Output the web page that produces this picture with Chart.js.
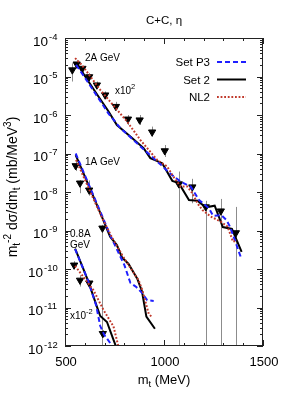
<!DOCTYPE html>
<html>
<head>
<meta charset="utf-8">
<script src="https://cdn.jsdelivr.net/npm/chart.js@4.4.0/dist/chart.umd.min.js"></script>
<style>
  html, body { margin: 0; padding: 0; background: #fff; }
  #wrap { width: 288px; height: 403px; }
</style>
</head>
<body>
<div id="wrap"><canvas id="chart" width="288" height="403"></canvas></div>
<script>
// m_t in MeV, values in mb/MeV^3 as plotted (2A scaled x10^2, 0.8A scaled x10^-2)

// 2A GeV
const set2_2A_mt = [559, 602, 652, 720, 762, 830, 897, 931, 991, 1042, 1075, 1126, 1169, 1211, 1256, 1297, 1343, 1392];
const set2_2A = [2.24e-5, 1.0e-5, 4.07e-6, 1.23e-6, 5.5e-7, 2.75e-7, 1.38e-7, 7.6e-8, 5.6e-8, 1.95e-8, 1.7e-8, 6.2e-9, 5.9e-9, 4.0e-9, 4.4e-9, 1.23e-9, 1.1e-9, 2.8e-10];
const p3_2A_mt = [556, 602, 652, 718, 779, 901, 986, 1028, 1084, 1135, 1177, 1227, 1248, 1290, 1316, 1333, 1358, 1375, 1392];
const p3_2A = [2.0e-5, 9.1e-6, 3.7e-6, 1.12e-6, 4.6e-7, 1.23e-7, 5.0e-8, 3.1e-8, 1.86e-8, 1.38e-8, 6.2e-9, 3.8e-9, 2.4e-9, 2.5e-9, 1.86e-9, 1.26e-9, 5.6e-10, 3.1e-10, 1.78e-10];
const nl2_2A_mt = [551, 585, 678, 813, 881, 931, 965, 1016, 1042, 1084, 1118, 1143, 1169, 1194, 1236, 1287, 1321, 1349, 1368];
const nl2_2A = [3.0e-5, 2.0e-5, 4.5e-6, 6.8e-7, 2.24e-7, 1.1e-7, 6.8e-8, 4.6e-8, 2.75e-8, 1.38e-8, 1.38e-8, 9.3e-9, 5.1e-9, 3.4e-9, 2.3e-9, 1.7e-9, 1.26e-9, 5.1e-10, 5.6e-10];
const exp2A_mt = [537, 559, 588, 622, 661, 703, 757, 818, 877, 940, 1004, 1075, 1143, 1211, 1287, 1363];
const exp2A = [1.48e-5, 2.1e-5, 1.62e-5, 9.8e-6, 6.0e-6, 3.3e-6, 1.66e-6, 7.8e-7, 7.4e-7, 3.6e-7, 1.17e-7, 1.62e-8, 1.35e-8, 4.1e-9, 3.2e-9, 8.7e-10];
const exp2A_hi = [2.2e-5, 2.7e-5, 1.9e-5, 1.23e-5, 7.4e-6, 4.1e-6, 2.2e-6, 1.0e-6, 1.0e-6, 5.0e-7, 1.66e-7, 3.4e-8, 2.2e-8, 5.9e-9, 6.6e-9, 4.1e-9];
const exp2A_lo = [7.4e-6, 1.78e-5, 1.4e-5, 8.1e-6, 5.0e-6, 2.75e-6, 1.35e-6, 5.5e-7, 5.5e-7, 2.75e-7, 8.1e-8, 0, 5.1e-9, 0, 0, 0];

// 1A GeV
const set2_1A_mt = [554, 593, 636, 686, 728, 762, 788, 821, 865, 889, 911, 954];
const set2_1A = [9.1e-8, 3.1e-8, 9.3e-9, 2.3e-9, 6.9e-10, 4.2e-10, 2.0e-10, 1.35e-10, 5.6e-11, 2.6e-11, 5.8e-12, 2.8e-12];
const p3_1A_mt = [554, 636, 686, 728, 771, 800, 830, 860, 889, 915, 948];
const p3_1A = [1.0e-7, 1.0e-8, 2.5e-9, 7.6e-10, 2.6e-10, 1.26e-10, 4.4e-11, 3.4e-11, 2.4e-11, 1.55e-11, 1.48e-11];
const nl2_1A_mt = [556, 637, 688, 738, 789, 830, 872, 891, 923, 940];
const nl2_1A = [6.8e-8, 7.9e-9, 2.1e-9, 6.5e-10, 2.3e-10, 1.07e-10, 5.1e-11, 2.8e-11, 6.8e-12, 5.6e-12];
const exp1A_mt = [554, 576, 622, 689];
const exp1A = [4.8e-8, 1.7e-8, 1.12e-8, 1.15e-9];
const exp1A_hi = [6.3e-8, 2.04e-8, 2.0e-8, 1.4e-9];
const exp1A_lo = [3.5e-8, 9.3e-9, 8.0e-9, 0];

// 0.8A GeV
const set2_08A_mt = [551, 585, 618, 661, 678, 712, 745, 764];
const set2_08A = [3.4e-10, 1.26e-10, 4.7e-11, 1.05e-11, 6.0e-12, 4.2e-12, 1.45e-12, 7.9e-13];
const p3_08A_mt = [551, 617, 657, 678, 698, 728, 749];
const p3_08A = [3.3e-10, 4.9e-11, 1.15e-11, 3.3e-12, 1.95e-12, 1.2e-12, 7.9e-13];
const nl2_08A_mt = [551, 644, 694, 745, 769, 780];
const nl2_08A = [1.2e-10, 2.8e-11, 8.7e-12, 3.2e-12, 1.0e-12, 6.3e-13];
const exp08A_mt = [546, 576, 623, 691];
const exp08A = [1.26e-10, 5.1e-11, 4.3e-11, 2.1e-12];
const exp08A_hi = [1.6e-10, 6.9e-11, 5.2e-11, 2.6e-12];
const exp08A_lo = [1.0e-10, 3.5e-11, 3.5e-11, 1.7e-12];

const xTicks = [500, 1000, 1500];
const yExps = [-4, -5, -6, -7, -8, -9, -10, -11, -12];
const legendLabels = ["Set P3", "Set 2", "NL2"];

const FONT = "'Liberation Sans', Arial, sans-serif";
const BLUE = "#1f1fff";
const RED = "#c0392b";

const pts = (xs, ys) => xs.map((x, i) => ({ x, y: ys[i] }));

const curve = (xs, ys, model) => {
  const style = {
    p3: { borderColor: BLUE, borderDash: [5, 3] },
    set2: { borderColor: "#000", borderDash: [] },
    nl2: { borderColor: RED, borderDash: [1.8, 1.8] },
  }[model];
  return {
    data: pts(xs, ys),
    borderWidth: 2,
    pointRadius: 0,
    fill: false,
    clip: 0,
    ...style,
  };
};

const expSet = (xs, ys, lo, hi) => ({
  data: pts(xs, ys),
  showLine: false,
  pointStyle: "triangle",
  rotation: 180,
  pointRadius: 4.2,
  backgroundColor: "#000",
  borderColor: "#000",
  borderWidth: 1,
  clip: 0,
  errLo: lo,
  errHi: hi,
});

const datasets = [
  curve(nl2_2A_mt, nl2_2A, "nl2"),
  curve(p3_2A_mt, p3_2A, "p3"),
  curve(set2_2A_mt, set2_2A, "set2"),
  curve(nl2_1A_mt, nl2_1A, "nl2"),
  curve(p3_1A_mt, p3_1A, "p3"),
  curve(set2_1A_mt, set2_1A, "set2"),
  curve(nl2_08A_mt, nl2_08A, "nl2"),
  curve(p3_08A_mt, p3_08A, "p3"),
  curve(set2_08A_mt, set2_08A, "set2"),
  expSet(exp2A_mt, exp2A, exp2A_lo, exp2A_hi),
  expSet(exp1A_mt, exp1A, exp1A_lo, exp1A_hi),
  expSet(exp08A_mt, exp08A, exp08A_lo, exp08A_hi),
];

// text made of pieces: [text, size, raise]
const richWidth = (ctx, parts) =>
  parts.reduce((w, [t, size]) => {
    ctx.font = `${size}px ${FONT}`;
    return w + ctx.measureText(t).width;
  }, 0);

const drawRich = (ctx, parts, x, y, align) => {
  let cx = x;
  const w = richWidth(ctx, parts);
  if (align === "center") cx = x - w / 2;
  if (align === "right") cx = x - w;
  ctx.textAlign = "left";
  ctx.textBaseline = "alphabetic";
  parts.forEach(([t, size, raise]) => {
    ctx.font = `${size}px ${FONT}`;
    ctx.fillText(t, cx, y - (raise || 0));
    cx += ctx.measureText(t).width;
  });
};

const decorations = {
  id: "decorations",
  beforeDatasetsDraw(chart) {
    const { ctx, chartArea: a, scales } = chart;
    ctx.save();
    ctx.beginPath();
    ctx.rect(a.left, a.top, a.right - a.left, a.bottom - a.top);
    ctx.clip();
    ctx.strokeStyle = "#8c8c8c";
    ctx.lineWidth = 1;
    chart.data.datasets.forEach((ds) => {
      if (!ds.errLo) return;
      ds.data.forEach((p, i) => {
        const x = Math.round(scales.x.getPixelForValue(p.x)) + 0.5;
        const yHi = scales.y.getPixelForValue(ds.errHi[i]);
        const yLo = ds.errLo[i] > 0 ? scales.y.getPixelForValue(ds.errLo[i]) : a.bottom;
        ctx.beginPath();
        ctx.moveTo(x, yHi);
        ctx.lineTo(x, yLo);
        ctx.stroke();
      });
    });
    ctx.restore();
  },
  afterDraw(chart) {
    const { ctx, chartArea: a, scales } = chart;
    const xs = scales.x;
    const ys = scales.y;
    ctx.save();
    ctx.fillStyle = "#000";
    ctx.strokeStyle = "#222";
    ctx.lineWidth = 1;

    // frame
    ctx.strokeRect(a.left + 0.5, a.top + 0.5, a.right - a.left - 1, a.bottom - a.top - 1);

    // ticks, inward on all sides
    const tick = (x1, y1, x2, y2) => {
      ctx.beginPath();
      ctx.moveTo(x1, y1);
      ctx.lineTo(x2, y2);
      ctx.stroke();
    };
    for (let v = 500; v <= 1500; v += 100) {
      const x = Math.round(xs.getPixelForValue(v)) + 0.5;
      const len = v % 500 === 0 ? 6 : 3;
      tick(x, a.bottom, x, a.bottom - len);
      tick(x, a.top, x, a.top + len);
    }
    yExps.forEach((e) => {
      for (let k = 1; k <= 9; k++) {
        if (e === -4 && k > 1) continue;
        const y = Math.round(ys.getPixelForValue(k * Math.pow(10, e))) + 0.5;
        const len = k === 1 ? 6 : 3;
        tick(a.left, y, a.left + len, y);
        tick(a.right, y, a.right - len, y);
      }
    });

    // x tick labels
    ctx.textAlign = "center";
    ctx.textBaseline = "alphabetic";
    ctx.font = `13px ${FONT}`;
    xTicks.forEach((v) => {
      ctx.fillText(String(v), xs.getPixelForValue(v) + 1, a.bottom + 20);
    });

    // y tick labels 10^e
    yExps.forEach((e) => {
      const y = ys.getPixelForValue(Math.pow(10, e));
      const right = e <= -10 ? 43 : 48;
      ctx.font = `13.5px ${FONT}`;
      ctx.textAlign = "right";
      ctx.fillText("10", right, y + 7.5);
      ctx.textAlign = "left";
      ctx.font = `9.5px ${FONT}`;
      ctx.fillText(String(e), right + 1, y + 1.5);
    });

    // axis titles
    drawRich(ctx, [["m", 13], ["t", 9.5, -3], [" (MeV)", 13]], (a.left + a.right) / 2, 384, "center");
    ctx.save();
    ctx.translate(17, 187);
    ctx.rotate(-Math.PI / 2);
    drawRich(ctx, [["m", 14], ["t", 10, -3], ["-2", 10, 6], [" d\u03c3/dm", 14], ["t", 10, -3], [" (mb/MeV", 14], ["3", 10, 6], [")", 14]], 0, 0, "center");
    ctx.restore();

    // title
    ctx.font = `11.5px ${FONT}`;
    ctx.textAlign = "center";
    ctx.fillText("C+C, \u03b7", (a.left + a.right) / 2, 24);

    // legend
    const styles = [
      { color: BLUE, dash: [5, 3] },
      { color: "#000", dash: [] },
      { color: RED, dash: [1.8, 1.8] },
    ];
    legendLabels.forEach((lab, i) => {
      const y = 62 + i * 17.5;
      ctx.font = `11.5px ${FONT}`;
      ctx.textAlign = "right";
      ctx.fillStyle = "#000";
      ctx.fillText(lab, 210, y + 4);
      ctx.strokeStyle = styles[i].color;
      ctx.lineWidth = 2;
      ctx.setLineDash(styles[i].dash);
      ctx.beginPath();
      ctx.moveTo(217, y);
      ctx.lineTo(246, y);
      ctx.stroke();
      ctx.setLineDash([]);
    });

    // curve annotations
    ctx.fillStyle = "#000";
    drawRich(ctx, [["2A GeV", 10]], 85, 61, "left");
    drawRich(ctx, [["x10", 10], ["2", 7.5, 5]], 115, 94, "left");
    drawRich(ctx, [["1A GeV", 10]], 85, 164.5, "left");
    drawRich(ctx, [["0.8A", 10]], 70, 236.5, "left");
    drawRich(ctx, [["GeV", 10]], 70, 248, "left");
    drawRich(ctx, [["x10", 10], ["-2", 7.5, 5]], 70, 319, "left");
    ctx.restore();
  },
};

new Chart(document.getElementById("chart"), {
  type: "line",
  data: { datasets },
  options: {
    responsive: false,
    animation: false,
    layout: { padding: { left: 65, right: 25, top: 38, bottom: 57 } },
    scales: {
      x: { type: "linear", min: 500, max: 1500, display: false },
      y: { type: "logarithmic", min: 1e-12, max: 1e-4, display: false },
    },
    elements: { line: { tension: 0 } },
    plugins: { legend: { display: false }, tooltip: { enabled: false } },
  },
  plugins: [decorations],
});
</script>
</body>
</html>
